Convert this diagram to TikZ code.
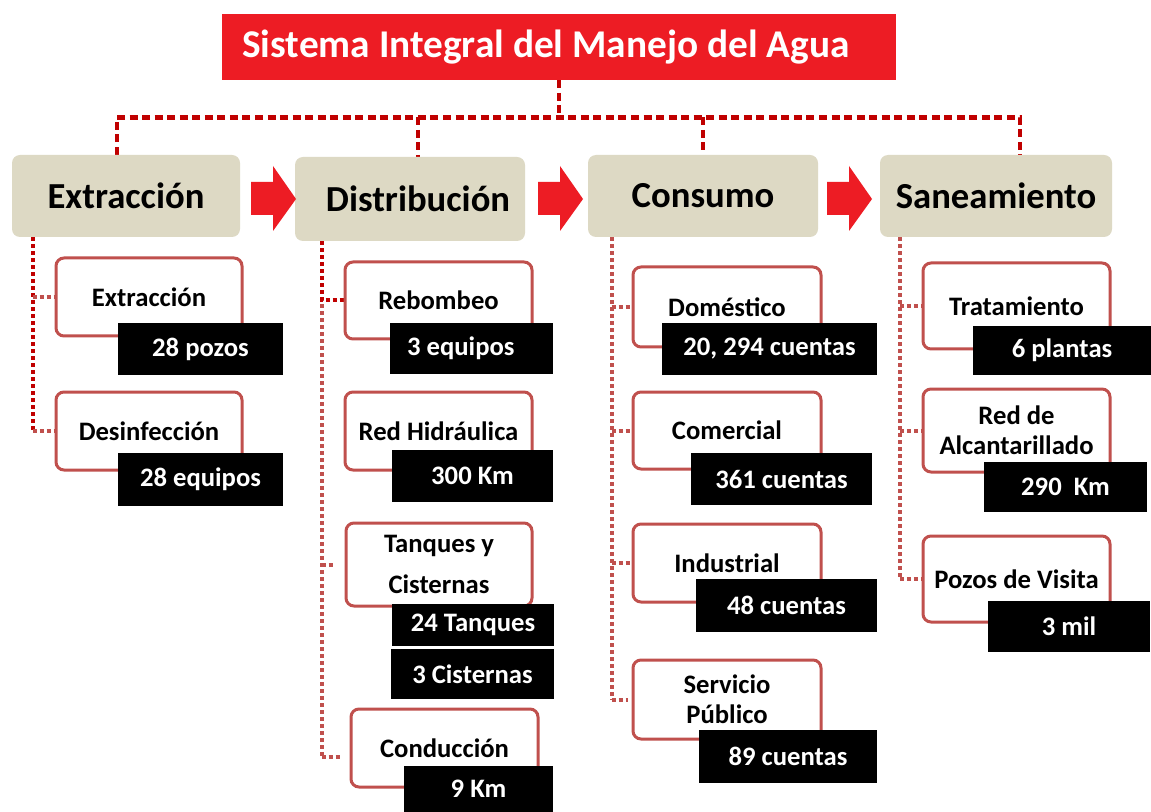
\documentclass[tikz,border=0pt]{standalone}
\usepackage{fontspec}
\setmainfont{Carlito}
\usetikzlibrary{calc,backgrounds}
\definecolor{titlered}{HTML}{ED1C24}
\definecolor{darkred}{HTML}{C00000}
\definecolor{boxred}{HTML}{C0504D}
\definecolor{beige}{HTML}{DDD9C4}
\newcommand\pxbox[7]{\node[#1, minimum width={(#5-#3)*0.75pt}, minimum height={(#6-#4)*0.75pt}] (#2) at ({(#3+#5)/2},{(#4+#6)/2}) {#7};}
\newcommand\blockarrow[1]{\fill[titlered] (#1,182) -- ++(22,0) -- ++(0,-16) -- ++(23,33) -- ++(-23,32) -- ++(0,-16) -- ++(-22,0) -- cycle;}
\tikzset{
  titlebox/.style={fill=titlered, text=white, inner sep=0pt, font=\bfseries\fontsize{29.5}{36}\selectfont},
  header/.style={fill=beige, rounded corners=6pt, inner sep=0pt, font=\bfseries\fontsize{27.5}{33}\selectfont},
  sub/.style={draw=boxred, line width=2.25pt, fill=white, rounded corners=6pt, inner sep=0pt, align=center, font=\bfseries\fontsize{20}{22.5}\selectfont},
  val/.style={fill=black, text=white, inner sep=0pt, font=\bfseries\fontsize{20}{24}\selectfont},
  topconn/.style={draw=darkred, line width=3.4pt, dash pattern=on 6pt off 3.4pt},
  subconn/.style={draw=boxred, line width=3pt, dash pattern=on 3pt off 2.25pt},
  subconndark/.style={draw=darkred, line width=3pt, dash pattern=on 3pt off 2.25pt}
}
\begin{document}
\begin{tikzpicture}[x=0.75pt,y=-0.75pt]
\useasboundingbox (0,0) rectangle (1151,812);
% title
\pxbox{titlebox}{title}{222}{14}{896}{80}{Sistema Integral del Manejo del Agua\hspace*{19.5pt}}
% headers
\pxbox{header}{h1}{12}{155}{240}{237}{Extracción}
\pxbox{header}{h2}{295}{157}{525}{241}{\hspace*{12pt}Distribución}
\pxbox{header}{h3}{588}{155}{818}{237}{Consumo}
\pxbox{header}{h4}{880}{155}{1112}{237}{Saneamiento}
% block arrows
\blockarrow{251}
\blockarrow{538}
\blockarrow{827}
% column 1
\pxbox{sub}{c11}{56}{258}{242}{336}{Extracción}
\pxbox{val}{v11}{118}{323}{283}{375}{28 pozos}
\pxbox{sub}{c12}{56}{392}{242}{470}{Desinfección}
\pxbox{val}{v12}{118}{453}{283}{506}{28 equipos}
% column 2
\pxbox{sub}{c21}{345}{262}{532}{339}{Rebombeo}
\pxbox{val}{v21}{390}{323}{553}{374}{3 equipos\hspace*{16pt}}
\pxbox{sub}{c22}{345}{392}{532}{470}{Red Hidráulica}
\pxbox{val}{v22}{392}{450}{553}{502}{300 Km}
\pxbox{sub}{c23}{346}{523}{532}{606}{Tanques y\\[8.25pt]Cisternas}
\pxbox{val}{v23a}{392}{604}{554}{646}{24 Tanques}
\pxbox{val}{v23b}{391}{649}{554}{699}{3 Cisternas}
\pxbox{sub}{c24}{351}{709}{538}{787}{Conducción}
\pxbox{val}{v24}{404}{766}{553}{812}{9 Km}
% column 3
\pxbox{sub}{c31}{633}{267}{821}{347}{Doméstico}
\pxbox{val}{v31}{662}{323}{877}{375}{20, 294 cuentas}
\pxbox{sub}{c32}{633}{392}{821}{469}{Comercial}
\pxbox{val}{v32}{691}{453}{872}{505}{361 cuentas}
\pxbox{sub}{c33}{633}{524}{821}{602}{Industrial}
\pxbox{val}{v33}{696}{579}{877}{632}{48 cuentas}
\pxbox{sub}{c34}{633}{660}{821}{739}{Servicio\\Público}
\pxbox{val}{v34}{699}{730}{877}{783}{89 cuentas}
% column 4
\pxbox{sub}{c41}{923}{263}{1110}{349}{Tratamiento}
\pxbox{val}{v41}{973}{326}{1151}{375}{6 plantas}
\pxbox{sub}{c42}{923}{389}{1110}{472}{Red de\\Alcantarillado}
\pxbox{val}{v42}{984}{462}{1147}{512}{290\ \ Km}
\pxbox{sub}{c43}{923}{536}{1110}{622}{Pozos de Visita}
\pxbox{val}{v43}{988}{601}{1150}{652}{3 mil}
% connectors
\begin{pgfonlayer}{background}
\fill[white] (0,0) rectangle (1151,812);
\coordinate (bus) at ($(title.south)+(0,37)$);
\coordinate (d1) at ($(h1.north)+(-9,0)$);
\coordinate (d2) at ($(h2.north)+(8,0)$);
\coordinate (d3) at (h3.north);
\coordinate (d4) at ($(h4.north)+(24,0)$);
\draw[topconn] (title.south) -- (bus);
\draw[topconn] (d1) |- (bus -| d4) -- (d4);
\draw[topconn] (bus -| d2) -- (d2);
\draw[topconn] (bus -| d3) -- (d3);
% column 1
\coordinate (k1) at ($(h1.south west)+(21,0)$);
\draw[subconndark] (k1) -- (k1 |- c12.west);
\draw[subconn] (k1 |- c11.west) -- (c11.west);
\draw[subconn] (k1 |- c12.west) -- (c12.west);
% column 2
\coordinate (k2) at ($(h2.south west)+(27,0)$);
\coordinate (k24) at ($(c24.west)+(0,9)$);
\draw[subconn] (k2) -- (k2 |- k24);
\draw[subconndark] (k2) -- (k2 |- c21.west) -- (c21.west);
\draw[subconn, shorten >=6.75pt] (k2 |- c23.west) -- (c23.west);
\draw[subconn, shorten >=6pt] (k2 |- k24) -- (k24);
% column 3
\coordinate (k3) at ($(h3.south west)+(24,0)$);
\draw[subconn] (k3) -- (k3 |- c34.west);
\draw[subconn] (k3 |- c31.west) -- (c31.west);
\draw[subconn] (k3 |- c32.west) -- (c32.west);
\draw[subconn] (k3 |- c33.west) -- (c33.west);
\draw[subconn, shorten >=3pt] (k3 |- c34.west) -- (c34.west);
% column 4
\coordinate (k4) at ($(h4.south west)+(20,0)$);
\draw[subconn] (k4) -- (k4 |- c43.west);
\draw[subconn] (k4 |- c41.west) -- (c41.west);
\draw[subconn] (k4 |- c42.west) -- (c42.west);
\draw[subconn] (k4 |- c43.west) -- (c43.west);
\end{pgfonlayer}
\end{tikzpicture}
\end{document}
